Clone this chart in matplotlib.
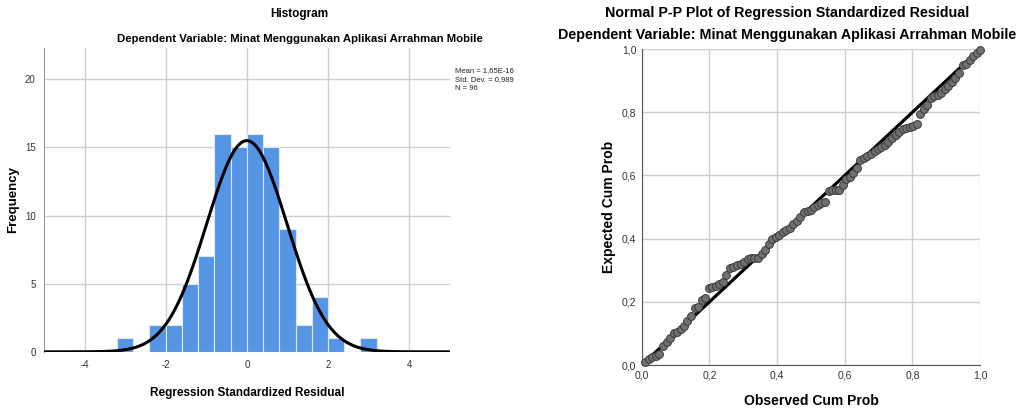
import numpy as np
import matplotlib
matplotlib.use('Agg')
import matplotlib.pyplot as plt
from matplotlib.ticker import FuncFormatter

# histogram of standardized residuals (bin width 0.4)
bin_edges = [-3.2, -2.8, -2.4, -2.0, -1.6, -1.2, -0.8, -0.4, 0.0, 0.4, 0.8, 1.2, 1.6, 2.0, 2.4, 2.8, 3.2]
bin_counts = [1, 0, 2, 2, 5, 7, 16, 15, 16, 15, 9, 2, 4, 1, 0, 1]
res_mean = 1.65e-16
res_std = 0.989
n_obs = 96
stats_lines = ["Mean = 1,65E-16", "Std. Dev. = 0,989", "N = 96"]

# normal P-P plot points (observed vs expected cumulative probability)
observed = [0.010, 0.021, 0.031, 0.042, 0.052, 0.063, 0.073, 0.083, 0.094, 0.104,
            0.115, 0.125, 0.135, 0.146, 0.156, 0.167, 0.177, 0.188, 0.198, 0.208,
            0.219, 0.229, 0.240, 0.250, 0.260, 0.271, 0.281, 0.292, 0.302, 0.313,
            0.323, 0.333, 0.344, 0.354, 0.365, 0.375, 0.385, 0.396, 0.406, 0.417,
            0.427, 0.438, 0.448, 0.458, 0.469, 0.479, 0.490, 0.500, 0.510, 0.521,
            0.531, 0.542, 0.552, 0.563, 0.573, 0.583, 0.594, 0.604, 0.615, 0.625,
            0.635, 0.646, 0.656, 0.667, 0.677, 0.688, 0.698, 0.708, 0.719, 0.729,
            0.740, 0.750, 0.760, 0.771, 0.781, 0.792, 0.802, 0.813, 0.823, 0.833,
            0.844, 0.854, 0.865, 0.875, 0.885, 0.896, 0.906, 0.917, 0.927, 0.938,
            0.948, 0.958, 0.969, 0.979, 0.990, 1.000]
expected = [0.010, 0.018, 0.024, 0.028, 0.034, 0.060, 0.072, 0.087, 0.100, 0.106,
            0.115, 0.124, 0.139, 0.156, 0.180, 0.184, 0.206, 0.212, 0.243, 0.246,
            0.250, 0.256, 0.262, 0.285, 0.306, 0.311, 0.315, 0.320, 0.327, 0.336,
            0.338, 0.338, 0.340, 0.350, 0.365, 0.382, 0.398, 0.405, 0.412, 0.420,
            0.427, 0.435, 0.446, 0.456, 0.470, 0.484, 0.487, 0.490, 0.500, 0.507,
            0.512, 0.515, 0.552, 0.555, 0.554, 0.555, 0.570, 0.588, 0.594, 0.608,
            0.622, 0.648, 0.654, 0.660, 0.668, 0.676, 0.685, 0.690, 0.696, 0.707,
            0.718, 0.728, 0.738, 0.747, 0.751, 0.754, 0.758, 0.763, 0.795, 0.810,
            0.822, 0.845, 0.850, 0.854, 0.862, 0.874, 0.884, 0.895, 0.907, 0.925,
            0.950, 0.954, 0.966, 0.978, 0.989, 0.997]

plt.rcParams['font.family'] = ['Liberation Sans', 'DejaVu Sans']
plt.rcParams['axes.unicode_minus'] = False
grid_col = '#cfcfcf'
tick_col = '#333333'

fig = plt.figure(figsize=(10.22, 4.12), dpi=100)

# ---- histogram ----
ax1 = fig.add_axes([0.043, 0.146, 0.397, 0.738])
edges = np.array(bin_edges)
ax1.bar(edges[:-1], bin_counts, width=np.diff(edges), align='edge',
        color='#5595e5', edgecolor='#dce8f8', linewidth=0.8, zorder=2)
xs = np.linspace(-5, 5, 400)
bw = edges[1] - edges[0]
pdf = n_obs * bw / (res_std * np.sqrt(2 * np.pi)) * np.exp(-0.5 * ((xs - res_mean) / res_std) ** 2)
ax1.plot(xs, pdf, color='black', lw=2.2, zorder=3)
ax1.set_xlim(-5, 5)
ax1.set_ylim(0, 22.3)
ax1.set_xticks([-4, -2, 0, 2, 4])
ax1.set_yticks([0, 5, 10, 15, 20])
ax1.grid(True, color=grid_col, lw=1, zorder=0)
ax1.set_axisbelow(True)
for s in ['top', 'right', 'bottom']:
    ax1.spines[s].set_visible(False)
ax1.spines['left'].set_color('#999999')
ax1.tick_params(length=0, labelsize=7, colors=tick_col, pad=6)
ax1.set_xlabel('Regression Standardized Residual', fontsize=8.5, fontweight='bold', labelpad=12)
ax1.set_ylabel('Frequency', fontsize=9.5, fontweight='bold', labelpad=4)
fig.text(0.293, 0.965, 'Histogram', ha='center', va='center', fontsize=8.5, fontweight='bold')
fig.text(0.293, 0.905, 'Dependent Variable: Minat Menggunakan Aplikasi Arrahman Mobile',
         ha='center', va='center', fontsize=8.2, fontweight='bold')
for k, line in enumerate(stats_lines):
    fig.text(0.445, 0.828 - k * 0.022, line, ha='left', va='center', fontsize=5.5, color='#222222')

# ---- normal P-P plot ----
ax2 = fig.add_axes([0.628, 0.114, 0.331, 0.767])
ax2.plot([0, 1], [0, 1], color='black', lw=2.3, zorder=3)
ax2.scatter(observed, expected, s=32, color='#707070', edgecolors='#3a3a3a',
            linewidths=0.7, zorder=4, clip_on=False)
ax2.set_xlim(0, 1)
ax2.set_ylim(0, 1)
ticks = [0, 0.2, 0.4, 0.6, 0.8, 1.0]
ax2.set_xticks(ticks)
ax2.set_yticks(ticks)
comma = FuncFormatter(lambda v, p: ('%.1f' % v).replace('.', ','))
ax2.xaxis.set_major_formatter(comma)
ax2.yaxis.set_major_formatter(comma)
ax2.grid(True, color=grid_col, lw=1, zorder=0)
ax2.set_axisbelow(True)
for s in ['top', 'right']:
    ax2.spines[s].set_visible(False)
ax2.spines['left'].set_color('#555555')
ax2.spines['bottom'].set_color('#555555')
ax2.tick_params(length=0, labelsize=7.5, colors=tick_col, pad=4)
ax2.set_xlabel('Observed Cum Prob', fontsize=10, fontweight='bold', labelpad=10)
ax2.set_ylabel('Expected Cum Prob', fontsize=10, fontweight='bold', labelpad=4)
fig.text(0.770, 0.968, 'Normal P-P Plot of Regression Standardized Residual',
         ha='center', va='center', fontsize=10.3, fontweight='bold')
fig.text(0.770, 0.915, 'Dependent Variable: Minat Menggunakan Aplikasi Arrahman Mobile',
         ha='center', va='center', fontsize=10.3, fontweight='bold')

fig.savefig('out.png', dpi=100)
